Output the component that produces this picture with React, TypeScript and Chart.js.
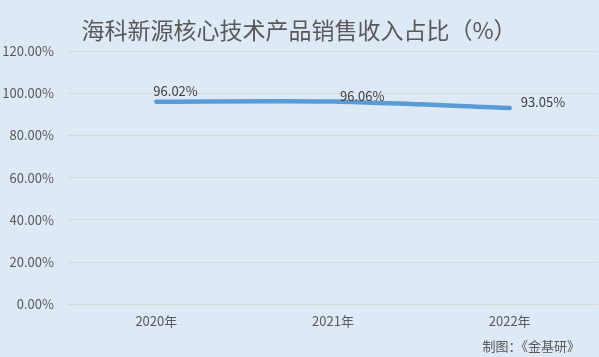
import React, { useEffect, useRef } from "react";
import { Chart, registerables } from "chart.js";

Chart.register(...registerables);

const TITLE = "海科新源核心技术产品销售收入占比（%）";
const CREDIT = "制图：《金基研》";
const categories = ["2020年", "2021年", "2022年"];
const shareValues = [0.9602, 0.9606, 0.9305];
const dataLabels = ["96.02%", "96.06%", "93.05%"];
const labelOffsets = [[-3, -11], [7, -5], [11, -6]];

const FONT = "'Noto Sans CJK SC', 'Noto Sans', sans-serif";

const decorPlugin = {
  id: "decor",
  beforeDraw(chart: any) {
    const { ctx, width, height } = chart;
    ctx.save();
    ctx.fillStyle = "#dde9f5";
    ctx.fillRect(0, 0, width, height);
    ctx.restore();
  },
  afterDatasetsDraw(chart: any) {
    const { ctx } = chart;
    const meta = chart.getDatasetMeta(0);
    ctx.save();
    ctx.fillStyle = "#595959";
    ctx.font = `23px ${FONT}`;
    ctx.textAlign = "center";
    ctx.textBaseline = "middle";
    ctx.fillText(TITLE, 299, 30);
    ctx.font = `13px ${FONT}`;
    ctx.fillStyle = "#404040";
    ctx.textAlign = "left";
    meta.data.forEach((pt: any, i: number) => {
      const [dx, dy] = labelOffsets[i];
      ctx.fillText(dataLabels[i], pt.x + dx, pt.y + dy);
    });
    ctx.font = `13px ${FONT}`;
    ctx.fillStyle = "#595959";
    ctx.textAlign = "right";
    ctx.fillText(CREDIT, 580, 346);
    ctx.restore();
  },
};

export default function App() {
  const ref = useRef<HTMLCanvasElement>(null);
  useEffect(() => {
    document.body.style.margin = "0";
    const chart = new Chart(ref.current!, {
      type: "line",
      data: {
        labels: categories,
        datasets: [
          {
            data: shareValues,
            borderColor: "#5b9bd5",
            borderWidth: 4.5,
            pointRadius: 0,
            tension: 0.25,
            borderCapStyle: "round",
            fill: false,
          },
        ],
      },
      options: {
        animation: false,
        responsive: false,
        layout: { padding: { top: 51, right: 1, left: 2, bottom: 27 } },
        plugins: { legend: { display: false }, tooltip: { enabled: false } },
        scales: {
          x: {
            offset: true,
            grid: { display: false },
            border: { display: false },
            ticks: { color: "#595959", font: { family: FONT, size: 13 }, padding: 1 },
          },
          y: {
            min: 0,
            max: 1.2,
            grid: { color: "#d9d9d9", lineWidth: 1, drawTicks: false },
            border: { display: false },
            afterFit: (s: any) => {
              s.width = 66;
            },
            ticks: {
              stepSize: 0.2,
              color: "#595959",
              font: { family: FONT, size: 13 },
              padding: 14,
              callback: (v: any) => (Number(v) * 100).toFixed(2) + "%",
            },
          },
        },
      },
      plugins: [decorPlugin],
    });
    return () => chart.destroy();
  }, []);
  return (
    <div style={{ width: 599, height: 357 }}>
      <canvas ref={ref} width={599} height={357} style={{ display: "block" }} />
    </div>
  );
}
